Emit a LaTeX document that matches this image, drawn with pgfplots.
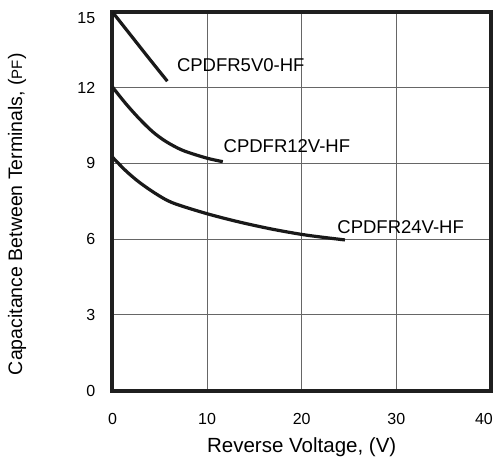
\documentclass[border=0pt]{standalone}
\usepackage{pgfplots}
\pgfplotsset{compat=1.18}
\usepackage{fontspec}
\setmainfont{Liberation Sans}
\begin{document}
\begin{tikzpicture}[x=1bp,y=1bp]
\begin{axis}[
  scale only axis,
  width=377bp, height=377bp,
  xmin=0, xmax=40, ymin=0, ymax=15,
  xtick={0,10,20,30},
  ytick={0,3,6,9,12},
  extra x ticks={40},
  extra y ticks={15},
  extra x tick style={grid=none, xticklabel style={xshift=-7bp}},
  extra y tick style={grid=none, yticklabel style={yshift=-6bp}},
  tick style={draw=none},
  grid=major,
  major grid style={line width=1pt, draw=black!60},
  axis line style={line width=4bp, draw=black!88},
  /pgf/number format/assume math mode=true,
  ticklabel style={font=\fontsize{16}{19}\selectfont, inner sep=0pt},
  xticklabel style={anchor=center, yshift=-28bp},
  yticklabel style={anchor=east, xshift=-17bp},
  xlabel={Reverse Voltage, (V)},
  ylabel={Capacitance Between Terminals, ({\fontsize{15}{17}\selectfont PF})},
  xlabel style={font=\fontsize{20.5}{24}\selectfont, at={(axis description cs:0.5,0)}, anchor=center, yshift=-56bp},
  ylabel style={font=\fontsize{19.5}{23}\selectfont, at={(axis description cs:-0.252,0.466)}, anchor=center, rotate=0},
  clip=false,
]
\pgfplotsset{curve/.style={draw=black!90, line width=3.2bp, smooth, no marks}}
\addplot[curve] coordinates {(0,15) (2,14.05) (4,13.1) (5.8,12.26)};
\addplot[curve] coordinates {(0,12.03) (1.41,11.37) (2.82,10.78) (4.24,10.26) (5.65,9.87) (7.42,9.52) (9.89,9.22) (11.66,9.07)};
\addplot[curve] coordinates {(0,9.25) (1.41,8.71) (2.82,8.26) (4.59,7.80) (6.36,7.44) (9.89,7.02) (13.4,6.68) (16.97,6.39) (20.5,6.16) (24.56,5.97)};
\node[anchor=west, inner sep=0pt, font=\fontsize{18.5}{22}\selectfont] at (axis cs:6.8,12.9) {CPDFR5V0-HF};
\node[anchor=west, inner sep=0pt, font=\fontsize{18.5}{22}\selectfont] at (axis cs:11.73,9.67) {CPDFR12V-HF};
\node[anchor=west, inner sep=0pt, font=\fontsize{18.5}{22}\selectfont] at (axis cs:23.75,6.49) {CPDFR24V-HF};
\path (rel axis cs:0,1) ++(-112bp,12bp);
\end{axis}
\end{tikzpicture}
\end{document}
